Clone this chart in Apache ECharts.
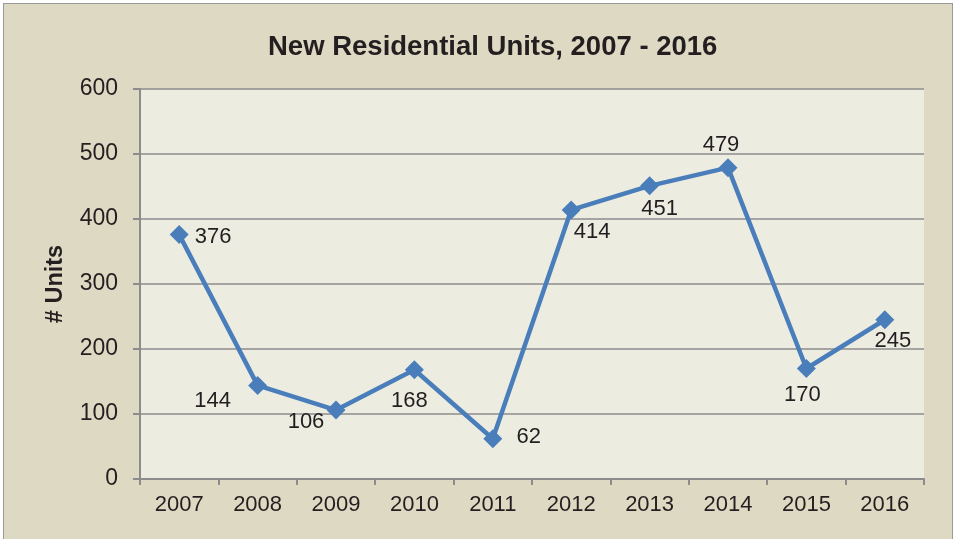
<!DOCTYPE html>
<html>
<head>
<meta charset="utf-8">
<script src="https://cdn.jsdelivr.net/npm/echarts@6/dist/echarts.min.js"></script>
<style>
  html, body { margin: 0; padding: 0; background: #ffffff; }
  #frame {
    position: absolute; left: 3px; top: 3px; width: 948px; height: 560px;
    background: #ded9c3; border: 1px solid #9a9a9a;
  }
  #chart { position: absolute; left: 0; top: 0; width: 959px; height: 539px; }
</style>
</head>
<body>
<div id="frame"></div>
<div id="chart"></div>
<script>
var years = ['2007', '2008', '2009', '2010', '2011', '2012', '2013', '2014', '2015', '2016']
var units = [376, 144, 106, 168, 62, 414, 451, 479, 170, 245]
// label offsets per point (as in the original picture)
var labelOffsets = [[34, 2], [-45, 16], [-30, 12], [-5, 31], [36, -2], [21, 22], [10, 23], [-7, -23], [-4, 26], [8, 21]]

var chart = echarts.init(document.getElementById('chart'))
var font = '"Liberation Sans", Arial, sans-serif'

chart.setOption({
  animation: false,
  backgroundColor: 'transparent',
  title: {
    text: 'New Residential Units, 2007 - 2016',
    left: 263,
    top: 28,
    textStyle: { fontFamily: font, fontSize: 27.5, fontWeight: 'bold', color: '#231f20' }
  },
  grid: {
    left: 140,
    right: 35,
    top: 89,
    bottom: 60,
    show: true,
    backgroundColor: '#edece1',
    borderWidth: 0
  },
  xAxis: {
    type: 'category',
    data: years,
    axisLine: { lineStyle: { color: '#8c8c8c', width: 2 } },
    axisTick: { show: true, length: 6, lineStyle: { color: '#8c8c8c', width: 2 } },
    axisLabel: { fontFamily: font, fontSize: 22, color: '#231f20', margin: 15 }
  },
  yAxis: {
    type: 'value',
    min: 0,
    max: 600,
    interval: 100,
    name: '# Units',
    nameLocation: 'middle',
    nameGap: 72,
    nameRotate: 90,
    nameTextStyle: { fontFamily: font, fontSize: 23.5, fontWeight: 'bold', color: '#231f20' },
    axisLine: { show: true, lineStyle: { color: '#8c8c8c', width: 2 } },
    axisTick: { show: true, length: 7, lineStyle: { color: '#8c8c8c', width: 2 } },
    axisLabel: { fontFamily: font, fontSize: 23, color: '#231f20', margin: 22 },
    splitLine: { lineStyle: { color: '#8c8c8c', width: 1.5 } }
  },
  series: [
    {
      type: 'line',
      data: units.map(function (v, i) {
        return {
          value: v,
          label: { offset: labelOffsets[i] }
        }
      }),
      symbol: 'diamond',
      symbolSize: 19,
      lineStyle: { color: '#4a7ebb', width: 4.5 },
      itemStyle: { color: '#4a7ebb' },
      label: {
        show: true,
        position: 'inside',
        fontFamily: font,
        fontSize: 22,
        color: '#231f20'
      }
    }
  ]
})
</script>
</body>
</html>
